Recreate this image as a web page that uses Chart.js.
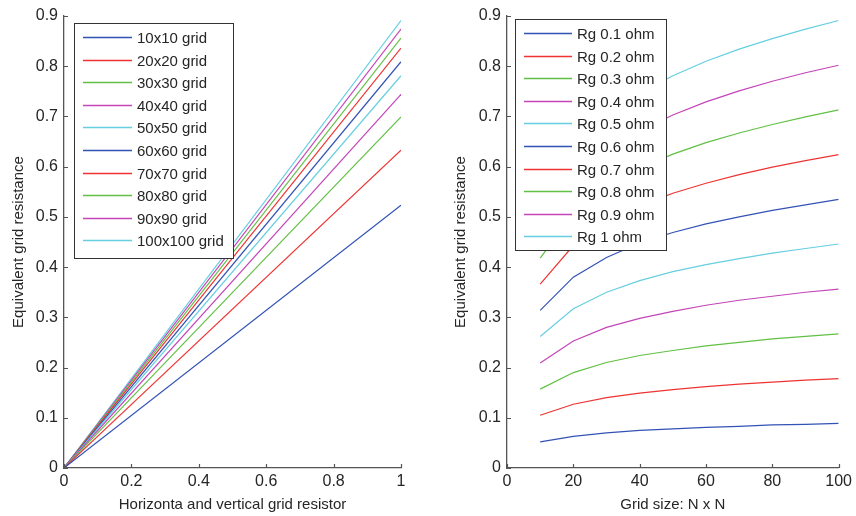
<!DOCTYPE html>
<html>
<head>
<meta charset="utf-8">
<script src="https://cdn.jsdelivr.net/npm/chart.js@4.4.1/dist/chart.umd.min.js"></script>
<style>
  html, body { margin: 0; padding: 0; background: #fff; }
  #wrap { position: relative; width: 856px; height: 516px; }
  .box { position: absolute; top: 0; width: 428px; height: 516px; }
</style>
</head>
<body>
<div id="wrap">
  <div class="box" style="left:0"><canvas id="leftChart" width="428" height="516"></canvas></div>
  <div class="box" style="left:428px"><canvas id="rightChart" width="428" height="516"></canvas></div>
</div>
<script>
// left panel: resistance at x = 0 and x = 1 for each grid size
const gridNames = ['10x10 grid','20x20 grid','30x30 grid','40x40 grid','50x50 grid',
                   '60x60 grid','70x70 grid','80x80 grid','90x90 grid','100x100 grid'];
const resistorX = [0, 1];
const gridEnd = [0.523, 0.633, 0.699, 0.744, 0.781, 0.809, 0.836, 0.856, 0.874, 0.891];

// right panel: resistance vs grid size for each Rg
const rgNames = ['Rg 0.1 ohm','Rg 0.2 ohm','Rg 0.3 ohm','Rg 0.4 ohm','Rg 0.5 ohm',
                 'Rg 0.6 ohm','Rg 0.7 ohm','Rg 0.8 ohm','Rg 0.9 ohm','Rg 1 ohm'];
const gridSizes = [10, 20, 30, 40, 50, 60, 70, 80, 90, 100];
const rg01 = [0.052, 0.063, 0.070, 0.075, 0.078, 0.081, 0.083, 0.086, 0.087, 0.089];
const rg02 = [0.105, 0.127, 0.140, 0.149, 0.156, 0.162, 0.167, 0.171, 0.175, 0.178];
const rg03 = [0.157, 0.190, 0.210, 0.224, 0.234, 0.243, 0.250, 0.257, 0.262, 0.267];
const rg04 = [0.209, 0.253, 0.280, 0.298, 0.312, 0.324, 0.334, 0.342, 0.350, 0.356];
const rg05 = [0.262, 0.317, 0.350, 0.373, 0.391, 0.405, 0.417, 0.428, 0.437, 0.446];
const rg06 = [0.314, 0.380, 0.419, 0.448, 0.469, 0.486, 0.500, 0.513, 0.524, 0.535];
const rg07 = [0.366, 0.443, 0.489, 0.522, 0.547, 0.567, 0.584, 0.599, 0.612, 0.624];
const rg08 = [0.418, 0.506, 0.559, 0.597, 0.625, 0.648, 0.667, 0.684, 0.699, 0.713];
const rg09 = [0.471, 0.570, 0.629, 0.671, 0.703, 0.729, 0.751, 0.770, 0.787, 0.802];
const rg10 = [0.523, 0.633, 0.699, 0.746, 0.781, 0.810, 0.834, 0.855, 0.874, 0.891];
const rgSeries = [rg01, rg02, rg03, rg04, rg05, rg06, rg07, rg08, rg09, rg10];

const yTicks = [0, 0.1, 0.2, 0.3, 0.4, 0.5, 0.6, 0.7, 0.8, 0.9];

// matlab-ish cycle: b r g m c
const colors = ['#3352b5', '#ee3333', '#62c045', '#c445b8', '#66cfe0'];

const textColor = '#262626';
const axisColor = '#555555';
const FONT = 'Arial, "Liberation Sans", sans-serif';
const tickFont = { size: 16, family: FONT };
const titleFont = { size: 15, family: FONT };

// inward tick marks, like matlab
const inwardTicks = {
  id: 'inwardTicks',
  afterDraw(chart) {
    const ctx = chart.ctx;
    const xs = chart.scales.x, ys = chart.scales.y;
    ctx.save();
    ctx.strokeStyle = axisColor;
    ctx.lineWidth = 1.2;
    ctx.beginPath();
    xs.ticks.forEach(t => {
      const px = Math.round(xs.getPixelForValue(t.value)) + 0.5;
      ctx.moveTo(px, ys.bottom);
      ctx.lineTo(px, ys.bottom - 4);
    });
    ys.ticks.forEach(t => {
      const py = Math.round(ys.getPixelForValue(t.value)) + 0.5;
      ctx.moveTo(xs.left, py);
      ctx.lineTo(xs.left + 4, py);
    });
    ctx.stroke();
    ctx.restore();
  }
};

// boxed legend drawn inside the plot
const boxLegend = {
  id: 'boxLegend',
  afterDatasetsDraw(chart, args, o) {
    const ctx = chart.ctx;
    ctx.save();
    ctx.fillStyle = '#fff';
    ctx.fillRect(o.x, o.y, o.w, o.h);
    ctx.strokeStyle = '#333';
    ctx.lineWidth = 1;
    ctx.strokeRect(o.x + 0.5, o.y + 0.5, o.w, o.h);
    ctx.font = '15px ' + FONT;
    ctx.textBaseline = 'middle';
    chart.data.datasets.forEach((ds, i) => {
      const cy = Math.round(o.firstRow + i * o.rowH) + 0.5;
      ctx.strokeStyle = ds.borderColor;
      ctx.lineWidth = 1.3;
      ctx.beginPath();
      ctx.moveTo(o.lineX0, cy);
      ctx.lineTo(o.lineX1, cy);
      ctx.stroke();
      ctx.fillStyle = textColor;
      ctx.fillText(ds.label, o.textX, cy + 1);
    });
    ctx.restore();
  }
};

function makeOptions(xOpts, yWidth, pad, legend, yTitlePad) {
  return {
    responsive: false,
    animation: false,
    layout: { padding: pad },
    plugins: { legend: { display: false }, tooltip: { enabled: false }, boxLegend: legend },
    elements: { point: { radius: 0 }, line: { borderWidth: 1.2, tension: 0 } },
    scales: {
      x: Object.assign({
        type: 'linear',
        grid: { display: false, drawTicks: false, tickLength: 0 },
        border: { display: true, color: axisColor, width: 1.3 },
        afterFit(s) { s.height = 48; }
      }, xOpts),
      y: {
        min: 0, max: 0.9,
        grid: { display: false, drawTicks: false, tickLength: 0 },
        border: { display: true, color: axisColor, width: 1.3 },
        afterBuildTicks(s) { s.ticks = yTicks.map(v => ({ value: v })); },
        ticks: { color: textColor, font: tickFont, padding: 6,
                 callback: v => String(+v.toFixed(1)) },
        title: { display: true, text: 'Equivalent grid resistance', color: textColor,
                 font: titleFont, padding: { top: yTitlePad, bottom: 0 } },
        afterFit(s) { s.width = yWidth; }
      }
    }
  };
}

new Chart(document.getElementById('leftChart'), {
  type: 'line',
  data: {
    datasets: gridNames.map((name, i) => ({
      label: name,
      data: resistorX.map((x, j) => ({ x: x, y: j === 0 ? 0 : gridEnd[i] })),
      borderColor: colors[i % 5]
    }))
  },
  options: makeOptions({
    min: 0, max: 1,
    ticks: { color: textColor, font: tickFont, padding: 4, stepSize: 0.2, maxRotation: 0,
             callback: v => String(+v.toFixed(1)) },
    title: { display: true, text: 'Horizonta and vertical grid resistor', color: textColor,
             font: titleFont, padding: { top: 2, bottom: 2 } }
  }, 64, { left: 0, right: 27, top: 16, bottom: 0 },
  { x: 74, y: 23, w: 159, h: 235, firstRow: 37, rowH: 22.6, lineX0: 83, lineX1: 132, textX: 137 }, 10),
  plugins: [inwardTicks, boxLegend]
});

new Chart(document.getElementById('rightChart'), {
  type: 'line',
  data: {
    datasets: rgNames.map((name, i) => ({
      label: name,
      data: gridSizes.map((n, j) => ({ x: n, y: rgSeries[i][j] })),
      borderColor: colors[i % 5]
    }))
  },
  options: makeOptions({
    min: 0, max: 100,
    ticks: { color: textColor, font: tickFont, padding: 4, stepSize: 20, maxRotation: 0 },
    title: { display: true, text: 'Grid size: N x N', color: textColor,
             font: titleFont, padding: { top: 2, bottom: 2 } }
  }, 79, { left: 0, right: 13, top: 16, bottom: 0 },
  { x: 87, y: 19, w: 151, h: 231, firstRow: 33, rowH: 22.6, lineX0: 96, lineX1: 144, textX: 149 }, 24),
  plugins: [inwardTicks, boxLegend]
});
</script>
</body>
</html>
